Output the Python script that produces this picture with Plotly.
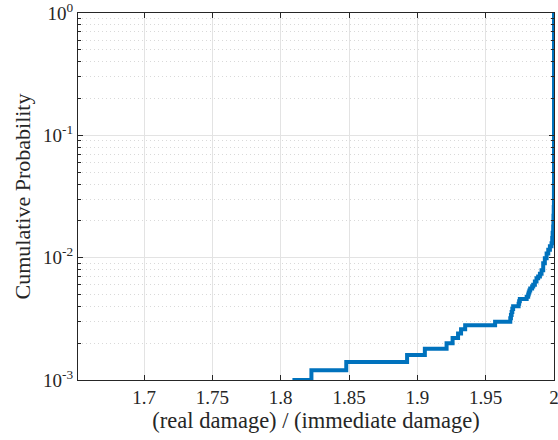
import plotly.graph_objects as go

# ECDF step points: ratio value and cumulative probability
ratio = [1.8086, 1.8225, 1.8480, 1.8925, 1.9055, 1.9214, 1.9258, 1.9298, 1.9320,
         1.9350, 1.9569, 1.9680, 1.9685, 1.9690, 1.9695, 1.9701, 1.9741, 1.9745,
         1.9750, 1.9800, 1.9811, 1.9815, 1.9820, 1.9826, 1.9840, 1.9848, 1.9860,
         1.9872, 1.9884, 1.9897, 1.9909, 1.9921, 1.9933, 1.9946, 1.9958, 1.9970,
         1.9982, 1.9987, 1.9990, 1.9994, 1.9996, 1.9998, 1.99995, 2.0000]
cum_prob = [1.0e-3, 1.2e-3, 1.4e-3, 1.6e-3, 1.8e-3, 2.0e-3, 2.2e-3, 2.4e-3, 2.6e-3,
            2.8e-3, 3.0e-3, 3.2e-3, 3.4e-3, 3.6e-3, 3.8e-3, 4.0e-3, 4.2e-3, 4.4e-3,
            4.6e-3, 4.8e-3, 5.0e-3, 5.2e-3, 5.4e-3, 5.6e-3, 5.8e-3, 6.0e-3, 6.4e-3,
            6.8e-3, 7.0e-3, 7.4e-3, 7.9e-3, 9.0e-3, 9.9e-3, 1.08e-2, 1.16e-2, 1.24e-2,
            1.31e-2, 1.45e-2, 1.6e-2, 1.8e-2, 2.2e-2, 2.6e-2, 4.0e-2, 1.0]

x_ticks = [1.7, 1.75, 1.8, 1.85, 1.9, 1.95, 2.0]
x_tick_labels = ["1.7", "1.75", "1.8", "1.85", "1.9", "1.95", "2"]
y_ticks = [1e-3, 1e-2, 1e-1, 1.0]
y_tick_labels = ["10<sup>-3</sup>", "10<sup>-2</sup>", "10<sup>-1</sup>", "10<sup>0</sup>"]
y_minor = [m * 10.0 ** e for e in range(-3, 0) for m in range(2, 10)]

x_range = [1.6517, 2.0]

fig = go.Figure()
fig.add_trace(go.Scatter(
    x=ratio, y=cum_prob, mode="lines",
    line=dict(color="#0072BD", width=4, shape="hv"),
    showlegend=False,
))

axis_col = "#262626"
font_family = "Times New Roman, Liberation Serif, Times, serif"

fig.update_layout(
    width=558, height=440,
    margin=dict(l=78, r=4, t=13, b=60, autoexpand=False),
    paper_bgcolor="white", plot_bgcolor="white",
    font=dict(family=font_family, size=19, color=axis_col),
    xaxis=dict(
        range=x_range, tickmode="array", tickvals=x_ticks, ticktext=x_tick_labels,
        ticks="inside", ticklen=5, tickcolor=axis_col, tickwidth=1,
        showline=True, linecolor=axis_col, linewidth=1, mirror="allticks",
        showgrid=True, gridcolor="#e3e3e3", gridwidth=1, zeroline=False,
        ticklabeloverflow="allow", automargin=False,
        tickfont=dict(family=font_family, size=19, color=axis_col),
        title=dict(text="(real damage) / (immediate damage)",
                   font=dict(family=font_family, size=22.5, color=axis_col), standoff=4),
    ),
    yaxis=dict(
        type="log", range=[-3, 0], tickmode="array", tickvals=y_ticks, ticktext=y_tick_labels,
        ticks="inside", ticklen=5, tickcolor=axis_col, tickwidth=1,
        showline=True, linecolor=axis_col, linewidth=1, mirror="allticks",
        showgrid=True, gridcolor="#e3e3e3", gridwidth=1, zeroline=False,
        ticklabeloverflow="allow", automargin=False,
        tickfont=dict(family=font_family, size=19, color=axis_col),
        minor=dict(tickmode="array", tickvals=y_minor, ticks="inside", ticklen=3,
                   tickcolor=axis_col, showgrid=True, gridcolor="#d9d9d9",
                   griddash="1px,3px", gridwidth=1),
        title=dict(text="Cumulative Probability",
                   font=dict(family=font_family, size=22, color=axis_col), standoff=6),
    ),
)

fig.write_html("out.html")
